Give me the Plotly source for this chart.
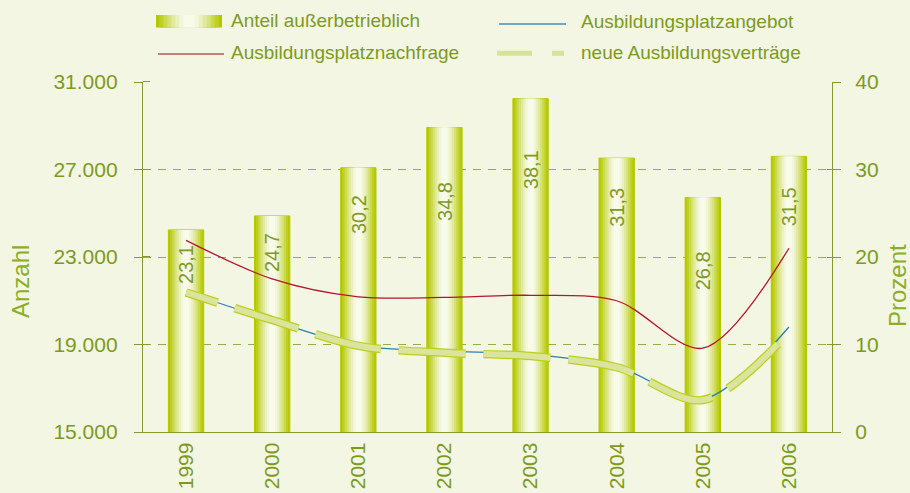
import plotly.graph_objects as go

# ---------------- data ----------------
years = ["1999", "2000", "2001", "2002", "2003", "2004", "2005", "2006"]
anteil = [23.1, 24.7, 30.2, 34.8, 38.1, 31.3, 26.8, 31.5]
anteil_labels = ["23,1", "24,7", "30,2", "34,8", "38,1", "31,3", "26,8", "31,5"]
nachfrage = [23760, 22000, 21180, 21150, 21250, 21000, 18830, 23400]
angebot = [21400, 20100, 18950, 18700, 18550, 18000, 16500, 19800]
vertraege = [21380, 20120, 18940, 18620, 18470, 17960, 16460, 19550]
left_tickvals = [15000, 19000, 23000, 27000, 31000]
left_ticktext = ["15.000", "19.000", "23.000", "27.000", "31.000"]
right_tickvals = [0, 10, 20, 30, 40]
right_ticktext = ["0", "10", "20", "30", "40"]
legend_names = ["Anteil außerbetrieblich", "Ausbildungsplatzangebot",
                "Ausbildungsplatznachfrage", "neue Ausbildungsverträge"]

# ---------------- style ----------------
BG = "#f3f6e3"
AX = "#839a2c"
GRID = "#98ab45"
TXT = "#7d9a1e"
TITLE = "#8cad27"
FONT = "Liberation Sans, Arial, sans-serif"
BAR_COLORS = ["#b4c800", "#bfd022", "#cbd94c", "#d6e277", "#e1e99e",
              "#eaf0c0", "#f2f6da", "#f8faea"]
BAR_WIDTHS = [0.41, 0.37, 0.32, 0.27, 0.22, 0.17, 0.12, 0.07]
LABEL_OFFSET_PX = [35, 37, 47, 74, 71, 49, 73, 50]  # label centre below bar top
DASH = ",".join(["33px", "18px"] + ["67px", "18px"] * 12)

L, R, T, B = 143, 78, 82, 61
W, H = 910, 493
PW, PH = W - L - R, H - T - B


def px(x):
    return (x - L) / PW


def py(y):
    return (H - B - y) / PH


fig = go.Figure()

# bars (percent, primary y on the right) - layered for cylinder gradient
for i, (c, w) in enumerate(zip(BAR_COLORS, BAR_WIDTHS)):
    fig.add_trace(go.Bar(
        x=years, y=anteil, width=w, name=legend_names[0],
        marker=dict(color=c, line=dict(color="#b4c800", width=1 if i == 0 else 0)),
        yaxis="y", hoverinfo="skip" if i else None, showlegend=False))

# lines (count, overlaying y2 on the left)
fig.add_trace(go.Scatter(x=years, y=nachfrage, mode="lines", name=legend_names[2],
                         line=dict(color="#b3162c", width=1.3, shape="spline", smoothing=0.9),
                         yaxis="y2", showlegend=False))
fig.add_trace(go.Scatter(x=years, y=angebot, mode="lines", name=legend_names[1],
                         line=dict(color="#2a7fb2", width=1.3, shape="spline", smoothing=0.9),
                         yaxis="y2", showlegend=False))
fig.add_trace(go.Scatter(x=years, y=vertraege, mode="lines", name=legend_names[3],
                         line=dict(color="#bccf1e", width=8.5, shape="spline", smoothing=0.9, dash=DASH),
                         yaxis="y2", showlegend=False, hoverinfo="skip"))
fig.add_trace(go.Scatter(x=years, y=vertraege, mode="lines", name=legend_names[3],
                         line=dict(color="#dbe49c", width=6, shape="spline", smoothing=0.9, dash=DASH),
                         yaxis="y2", showlegend=False))

annotations = []
for i, (v, lab, off) in enumerate(zip(anteil, anteil_labels, LABEL_OFFSET_PX)):
    annotations.append(dict(x=i, y=v, xref="x", yref="y", text=lab, showarrow=False,
                            textangle=-90, xanchor="center", yanchor="middle", yshift=-off,
                            font=dict(family=FONT, size=20, color="#7f9a25")))

annotations.append(dict(x=px(20), y=py(282), xref="paper", yref="paper", text="Anzahl",
                        showarrow=False, textangle=-90, xanchor="center", yanchor="middle",
                        font=dict(family=FONT, size=24, color=TITLE)))
annotations.append(dict(x=px(897), y=py(286), xref="paper", yref="paper", text="Prozent",
                        showarrow=False, textangle=-90, xanchor="center", yanchor="middle",
                        font=dict(family=FONT, size=24, color=TITLE)))

# ---------------- legend (drawn manually) ----------------
leg_pos = [(229, 21), (579, 22), (229, 52), (579, 52)]
for name, (lx, ly) in zip(legend_names, leg_pos):
    annotations.append(dict(x=px(lx), y=py(ly), xref="paper", yref="paper", text=name,
                            showarrow=False, xanchor="left", yanchor="middle",
                            font=dict(family=FONT, size=19, color=TXT)))

shapes = []
x0, x1, y0, y1 = 156, 222, 15, 27.5
cx = (x0 + x1) / 2
for c, w in zip(BAR_COLORS, BAR_WIDTHS):
    hw = (x1 - x0) / 2 * w / BAR_WIDTHS[0]
    shapes.append(dict(type="rect", xref="paper", yref="paper",
                       x0=px(cx - hw), x1=px(cx + hw), y0=py(y1), y1=py(y0),
                       fillcolor=c, line=dict(width=0)))
shapes.append(dict(type="line", xref="paper", yref="paper", x0=px(499), x1=px(566),
                   y0=py(24), y1=py(24), line=dict(color="#4a8db5", width=1.6)))
shapes.append(dict(type="line", xref="paper", yref="paper", x0=px(158), x1=px(224),
                   y0=py(54), y1=py(54), line=dict(color="#c0505a", width=1.6)))
for a, b in [(497, 532), (552, 564)]:
    shapes.append(dict(type="line", xref="paper", yref="paper", x0=px(a), x1=px(b),
                       y0=py(53.3), y1=py(53.3), line=dict(color="#d8e298", width=5)))

tickfont = dict(family=FONT, size=21, color=TXT)

fig.update_layout(
    width=W, height=H,
    margin=dict(l=L, r=R, t=T, b=B, pad=0, autoexpand=False),
    paper_bgcolor=BG, plot_bgcolor=BG,
    barmode="overlay", showlegend=False,
    font=dict(family=FONT, color=TXT),
    xaxis=dict(type="category", range=[-0.5, 7.5], showline=True, linecolor=AX,
               linewidth=1.3, ticks="", tickangle=-90, tickfont=tickfont, automargin=False,
               showgrid=False, zeroline=False, ticklabelstandoff=1, fixedrange=True),
    yaxis=dict(side="right", range=[0, 40], tickmode="array", tickvals=right_tickvals,
               ticktext=right_ticktext, ticks="outside", ticklen=8, tickcolor=AX,
               tickwidth=1.2, showline=True, linecolor=AX, linewidth=1.3, automargin=False,
               showgrid=False, zeroline=False, tickfont=tickfont, ticklabelstandoff=10,
               minor=dict(tickmode="array", tickvals=[10.0001, 20.0001, 30.0001],
                          showgrid=True, gridcolor=GRID, griddash="8px,7px",
                          gridwidth=1.2, ticks="inside", ticklen=5, tickcolor=AX)),
    yaxis2=dict(side="left", overlaying="y", range=[15000, 31000], tickmode="array",
                tickvals=left_tickvals, ticktext=left_ticktext, ticks="outside",
                ticklen=8, tickcolor=AX, tickwidth=1.2, showline=True, linecolor=AX,
                linewidth=1.3, showgrid=False, zeroline=False, tickfont=tickfont,
                ticklabelstandoff=12, automargin=False,
                minor=dict(tickmode="array",
                           tickvals=[v + 1 for v in left_tickvals[1:]],
                           ticks="inside", ticklen=7, tickcolor=AX, showgrid=False)),
    annotations=annotations,
    shapes=shapes,
)

fig.write_html("out.html", config={"displayModeBar": False},
               post_script="document.body.style.margin='0px';document.body.style.overflow='hidden';")
